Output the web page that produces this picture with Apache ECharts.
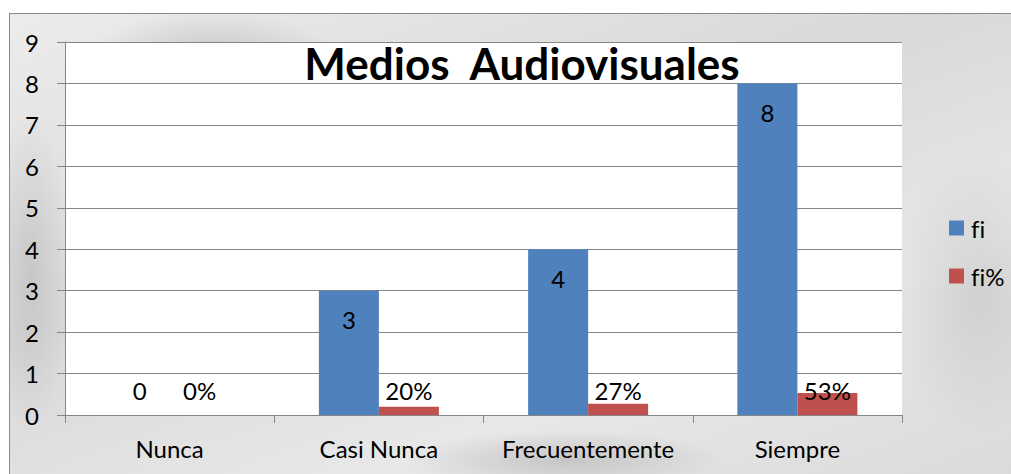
<!DOCTYPE html>
<html>
<head>
<meta charset="utf-8">
<script src="https://cdn.jsdelivr.net/npm/echarts@6/dist/echarts.min.js"></script>
<style>
  html, body { margin: 0; padding: 0; background: #fff; overflow: hidden; }
  #frame {
    position: absolute; left: 9px; top: 13px; width: 1010px; height: 470px;
    border: 1px solid #8a8a8a;
    background-color: #e2e2e2;
    background-image:
      radial-gradient(ellipse 120px 40px at 20% 8%, rgba(150,150,150,0.35), transparent),
      radial-gradient(ellipse 160px 30px at 55% 95%, rgba(140,140,140,0.35), transparent),
      radial-gradient(ellipse 90px 140px at 96% 60%, rgba(160,160,160,0.3), transparent),
      radial-gradient(ellipse 40px 160px at 2% 55%, rgba(150,150,150,0.3), transparent),
      linear-gradient(160deg, #ececec, #d9d9d9 40%, #e8e8e8 70%, #dadada);
  }
  #chart { position: absolute; left: 0; top: 0; width: 1011px; height: 474px; }
  /* sin ligaduras: "fi" como dos letras */
  #chart text { font-variant-ligatures: none; font-feature-settings: "liga" 0; }
</style>
</head>
<body>
<div id="frame"></div>
<div id="chart"></div>
<script>
// datos del gráfico
const categories = ['Nunca', 'Casi Nunca', 'Frecuentemente', 'Siempre'];
const fiValues = [0, 3, 4, 8];
const fiPctValues = [0, 0.20, 0.27, 0.53];
const yTicks = [0, 9, 1]; // min, max, intervalo

const FONT = 'Lato, "Open Sans", sans-serif';

const myChart = echarts.init(document.getElementById('chart'), null, { renderer: 'svg' });

const chartsOption = {
  animation: false,
  title: {
    text: 'Medios  Audiovisuales',
    left: 517,
    top: 34,
    textAlign: 'center',
    z: 10,
    textStyle: {
      fontFamily: FONT,
      fontSize: 44,
      fontWeight: 'bold',
      color: '#000',
      lineHeight: 48
    }
  },
  legend: {
    orient: 'vertical',
    left: 944,
    top: 211,
    itemWidth: 15,
    itemHeight: 15,
    itemGap: 24,
    icon: 'rect',
    textStyle: {
      fontFamily: FONT,
      fontSize: 24,
      lineHeight: 24,
      color: '#000',
      padding: [0, 0, 0, 2]
    },
    data: ['fi', 'fi%']
  },
  grid: {
    left: 65,
    right: 109,
    top: 42,
    bottom: 59,
    show: true,
    backgroundColor: '#fff',
    borderWidth: 0
  },
  xAxis: {
    type: 'category',
    data: categories,
    axisLine: { lineStyle: { color: '#868686', width: 1 } },
    axisTick: { show: true, alignWithLabel: false, length: 8, lineStyle: { color: '#868686' } },
    axisLabel: {
      fontFamily: FONT,
      fontSize: 24,
      color: '#000',
      margin: 21,
      interval: 0
    }
  },
  yAxis: {
    type: 'value',
    min: yTicks[0],
    max: yTicks[1],
    interval: yTicks[2],
    axisLine: { show: true, lineStyle: { color: '#868686', width: 1 } },
    axisTick: { show: true, length: 8, lineStyle: { color: '#868686' } },
    splitLine: { show: true, lineStyle: { color: '#868686', width: 1 } },
    axisLabel: {
      fontFamily: FONT,
      fontSize: 24,
      color: '#000',
      margin: 26
    }
  },
  series: [
    {
      name: 'fi',
      type: 'bar',
      barWidth: 60,
      barGap: 0,
      itemStyle: { color: '#4f81bd' },
      label: {
        show: true,
        position: 'insideTop',
        distance: 17,
        fontFamily: FONT,
        fontSize: 24,
        color: '#000'
      },
      // cuando el valor es 0 la etiqueta va sobre el eje
      data: fiValues.map(v => v === 0
        ? { value: v, label: { position: 'insideBottom', distance: 13 } }
        : v)
    },
    {
      name: 'fi%',
      type: 'bar',
      barWidth: 60,
      barGap: 0,
      itemStyle: { color: '#c0504d' },
      label: {
        show: true,
        position: 'insideBottom',
        distance: 13,
        fontFamily: FONT,
        fontSize: 24,
        color: '#000',
        formatter: (params) => Math.round(params.value * 100) + '%'
      },
      data: fiPctValues
    }
  ]
};

myChart.setOption(chartsOption);
</script>
</body>
</html>
